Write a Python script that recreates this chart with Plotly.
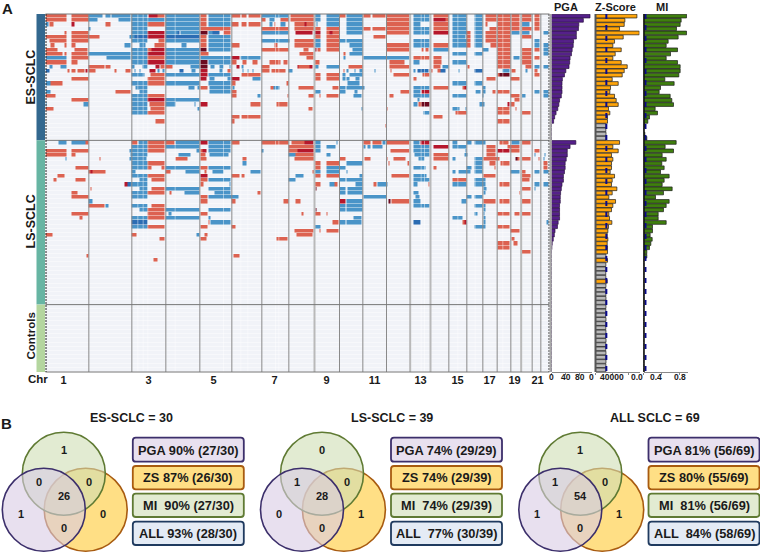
import numpy as np
import plotly.graph_objects as go

W, H = 760, 552
FONT = "Liberation Sans"

# Copy-number segments per sample. Letter = state, numbers = genome position.
# LEFT holds chr 1-7 positions, RIGHT holds chr 7-22 positions (offset by RIGHT_OFFSET).
RIGHT_OFFSET = 810
ES_LEFT = [
 "r140-202 r217-268 b268-310 b320-335 b337-395 b398-445 R447-475 r475-497 b500-600 r603-622 b627-695 r698-723 r728-743 r748-785 b787-840",
 "r140-202 r217-268 b268-295 b358-395 b398-497 b500-600 r603-622 b627-695 r787-800",
 "b140-147 r150-162 R217-225 r320-335 b398-445 r445-497 b500-600 r603-622 b627-695 r698-718 r728-743 r748-785",
 "b268-273 b398-445 b500-600 r603-695 r787-840",
 "r195-202 r217-268 b398-445 R445-497 b500-535 B535-540 b545-600 D603-625 b627-640 B640-660 r673-695 b787-840",
 "r140-202 r217-268 r268-300 b390-405 B405-445 R445-497 B500-600 r603-622 b627-695",
 "r150-202 r217-268 b398-445 r478-497 b500-600 r603-622 b627-695 b787-840",
 "r155-165 r197-202 r217-230 b375-395 b420-440 r465-497 b548-562 r603-622 b627-695 r698-720 r825-835",
 "r140-175 r225-265 b398-445 r445-458 R458-497 b500-600 D603-622 b627-695 r787-840",
 "r140-190 r197-202 r217-265 b268-395 b398-445 R445-497 b500-600 r603-627",
 "b140-202 r217-268 b322-395 b398-445 r445-497 b500-600 b603-695 R698-722 b725-785",
 "r140-202 r217-235 b398-445 R445-497 b500-600 D603-625 b627-695 r698-712 r730-742 r760-775 r810-840",
 "b150-160 b185-202 r268-315 r320-335 b398-405 b430-445 R470-480 r485-497 r500-520 b575-600 D603-625 b635-645 b660-672 b690-695 R712-720 b728-733 r787-810",
 "B140-150 r205-210 r217-230 r235-255 R258-265 r268-288 r345-352 r378-395 b405-410 b420-423 R452-470 b475-480 b490-497 B542-553 b578-590 R603-625 b660-670 r685-695 b730-733 b745-748 b760-763 r787-810 r820-838",
 "b398-435 r455-497 b500-600 R603-625 b627-695 r728-785",
 "r217-268 r445-497 R603-622 b630-645 b685-695 R698-722 b760-785",
 "b140-155 r155-190 b398-445 r445-497 b500-600 b627-695 r698-708",
 "b408-445 b568-585 b595-600 r603-625 b630-695 b700-705 b815-840",
 "b140-155 r348-395 b422-445 b630-695 r698-712",
 "r140-168 b398-445 r445-497 r698-712 b775-785",
 "r217-268 b398-445 R445-497 b500-600",
 "b137-142 b252-268 b398-445 r450-497 b500-530 b585-590 R603-625 r755-785",
 "r140-163 b398-445 r455-497 b595-600",
 "b398-445 r445-497",
 "r698-722 r728-785",
 "r468-497 r698-705",
 "", "", "", "",
]
ES_RIGHT = [
 "b0-58 r65-135 b137-155 b172-210 r212-228 b232-280 r282-305 r310-350 r352-420 b432-482 r493-538 b550-592 b617-640 r650-682 r685-723 r727-752 r758-787 r797-812",
 "b0-15 r33-58 r65-135 b137-155 b172-210 b232-280 r352-420 b432-482 R493-530 r530-538 b550-592 b617-640 r650-682 r685-723 r727-752 r758-787 r797-812",
 "b0-10 r15-20 b35-50 r75-105 R105-112 r112-135 b143-146 b172-210 b232-280 r352-420 b432-455 r493-538 b550-592 b617-640 r650-655 r685-723 r727-752 b758-780 r797-812",
 "r0-58 r75-135 r137-155 r172-210 b232-280 r282-305 r310-350 r352-420 b432-482 r493-538 b550-592 b617-640 r660-682 r685-723 r727-752 r758-787 r797-812",
 "b0-58 R78-130 R137-155 r172-180 R180-190 r190-210 b232-280 r352-420 b432-482 R493-538 b550-592 r592-605 b617-640 r650-682 r685-723 b727-752 b758-780 b822-838",
 "r312-350 r137-155 r172-210 b550-590 r592-605 b617-640 r650-682 r685-723 r758-787",
 "b0-60 r75-135 b137-155 r172-210 b210-228 b232-280 b432-482 b550-592 r592-605 b617-640 r650-682 r685-723 b797-812",
 "r75-135 b137-155 r172-210 b240-280 r352-420 b432-482 r493-538 b550-592 r592-605 b617-640 r665-682 r685-723 b797-812 b822-838",
 "r0-58 r102-118 R137-143 r145-155 r172-210 b250-280 r352-420 r458-462 r470-478 b493-538 b640-658 r685-723 r758-787 r797-812 b822-838",
 "r90-133 r222-228 b240-280 b550-592 b617-640 r685-723 r758-787 b822-838",
 "r112-133 b222-228 b282-420 r432-482 r493-518 r685-723 b732-752 r758-787 r797-812",
 "r0-35 r42-55 r137-152 r362-405 b432-450 r493-518 b550-592 r685-723 r758-787",
 "R85-88 r88-120 R120-130 b135-148 b172-210 r238-280 r362-420 r493-515 b520-538 r596-600 r685-723 r770-787 b797-812 b822-838",
 "r8-50 b58-70 r222-226 b232-238 b255-260 b270-280 b316-319 r365-368 b432-440 B445-478 r480-490 r505-515 B515-530 b568-571 B617-640 b700-722 r727-740 b770-775 r797-805",
 "r137-155 r172-210 b220-228 b240-280 r372-420 r460-482 r685-690 D690-722 r797-812",
 "r137-155 r172-210 b220-228 b232-242 b258-272 r432-442 r652-680 r725-752",
 "r52-58 b235-272 b550-592 b617-640",
 "r5-12 r88-135 r190-208 b210-228 b232-285 b432-482 r493-538 r580-585 R585-592 b640-650",
 "b137-155 b210-228 b255-265 r395-420 b432-455 R458-482 b618-635 b640-650 r670-680 r685-722 b795-810 b822-838",
 "r55-58 r118-135 r150-155 r172-208 b252-278 r360-372 b432-482 b550-592 b640-643 r725-752 b758-768 b822-838",
 "r735-752 b445-450",
 "r22-55 b432-445 r448-458 D458-482 b632-645 R715-722 r725-735",
 "r118-130 b278-281 r352-355 b550-572 b590-593 r685-722 r740-743",
 "b462-482 r558-592 r685-722 r758-785",
 "r493-520",
 "r685-722",
 "r348-351",
 "", "", "",
]
LS_LEFT = [
 "b178-202 b217-258 r258-268 r398-415 b418-445 r445-497 r500-525 b530-600 R603-625 b627-695 r698-722 r787-840",
 "b398-445 r445-497 b500-600 b627-695",
 "r140-202 r217-268 b390-445 r445-497 b592-600 r603-610 R610-622 b627-695 b787-792",
 "r140-202 r217-230 b395-445 b538-575 r603-620 b630-688",
 "b198-202 r300-303 b392-442 r530-565 r603-622 r730-742",
 "b398-445 r445-497 b730-742",
 "r228-268 b398-445 r445-458 r488-497 b500-600 r603-625 b627-695",
 "r268-275 R275-280 r280-320 b398-410 r500-515 b560-600 r615-622 b640-672 b755-785",
 "r175-195 b398-445 r445-497 R603-625 r698-722 r728-737",
 "r162-173 r228-258 b420-445 r458-497 r603-625 b627-695",
 "R375-385 B385-395 b395-445 r603-614 b692-695",
 "r275-278 b420-445 r458-497 b500-600 b627-695",
 "r217-235 b398-445 r445-497 r512-518 b555-600 b645-695 r775-785",
 "r217-268 b398-445 r603-625 b627-717",
 "b268-280 r603-625 r698-708",
 "r268-315 b320-328 b398-445 r458-497",
 "b420-445 r445-497 b500-600 b627-695",
 "r217-268 r445-497 b508-518 r603-625",
 "r240-250 b398-445 r445-497 b500-600 b627-635",
 "B398-445 r628-632 b635-695",
 "b398-445 r445-497 r603-625 r698-708",
 "",
 "r140-160 r398-413 b592-600 r615-625",
 "r480-497 r603-623 r832-838",
 "", "", "",
 "r262-268 r702-722",
 "r463-475",
 "", "", "", "", "", "", "", "", "", "",
]
LS_RIGHT = [
 "r0-58 r68-105 R105-133 b137-155 b202-205 r282-305 r310-338 b340-350 r352-420 b432-452 R455-482 b550-565 b593-607 b617-650 r690-718 b727-750 r758-785",
 "r58-135 b137-155 b172-198 b282-290 b295-305 b310-340 b432-482 R493-538 b550-592 r652-680 r715-752",
 "r58-85 R85-133 r133-135 b137-155 r365-420 b432-482 b590-593 r652-680 R685-690 R692-722 r725-750 r797-810",
 "b58-80 r80-135 b172-185 b437-482 r493-538 b585-595 r652-680 b797-800 b825-828",
 "r75-135 r210-228 r285-305 r352-355 r372-408 b447-465 r493-538 b550-560 b617-640 r642-690 D740-745 r745-752 r758-785 r808-811 b823-826",
 "r137-155 r172-210 b232-280 r358-362 r415-420 b617-640 r662-678 r695-722 r822-835",
 "r137-155 b172-210 b212-228 b432-468 r493-503 b593-607 b617-640 r675-680 r823-835",
 "r130-137 b137-155 b172-210 b232-235 b550-560 b568-605 b617-640 b725-752 r758-770 b797-810 b823-838",
 "b78-103 r137-155 r172-210 b270-280 r368-420 b432-472 r642-680 r758-785",
 "b58-78 b210-228 b232-280 b432-482 r550-592 b617-650 r758-780",
 "r137-155 b182-195 r195-205 b260-280 r312-322 b325-355 b432-445 r478-482 b550-592 b617-650 r692-722 b797-810 b823-838",
 "D138-143 b210-228 b235-280 b642-652 r758-785 b797-800",
 "b210-228 b235-280 b432-448 b642-650 r752-755",
 "b282-352 b440-452 b593-607 b617-640",
 "r42-58 r80-93 R210-228 b232-280 D358-364 r368-420 b432-455 b578-592 r642-680 r692-722 r758-785",
 "b210-228 b232-280 b432-482 b617-640 b642-648",
 "D138-143 b210-228 b232-280 b642-648",
 "r98-103 r137-155 r172-175 b617-625 b642-645 r685-722 r737-752 r758-785",
 "b252-278 b550-580 b642-648",
 "r190-208 b210-228 b232-278 B432-455 r580-585 R585-592 b642-650 b832-838",
 "b137-155 b617-650 r685-722",
 "r75-133 r152-155 r172-208 r725-752",
 "r83-130",
 "r22-55 r727-735",
 "r685-722 r733-745",
 "r685-722",
 "r758-785",
 "", "", "", "", "", "", "", "", "", "", "", "",
]
N_CONTROLS = 16

CHR_EDGES = [268, 397, 499, 601, 697, 787, 868, 945, 1020, 1090, 1161, 1232, 1293, 1348, 1402, 1450, 1493, 1534, 1565, 1598, 1624]
CHR_EDGES_SOFT = [945, 1232, 1293, 1565]
CHR_TICKS = [192, 447, 642, 825, 981, 1125, 1263, 1374, 1470, 1545, 1614]
CHR_LABELS = ["1", "3", "5", "7", "9", "11", "13", "15", "17", "19", "21"]
BAND_GAPS = [415, 431, 445, 527, 672, 724, 745, 828, 838, 1265, 1275, 1375, 1427, 1510]

PGA_ES = [110, 91, 78, 77, 71, 71, 63, 62, 59, 57, 53, 52, 50, 41, 37, 31, 30, 30, 30, 28, 23, 21, 18, 13, 9, 6, 0, 0, 0, 0]
PGA_LS = [69.5, 53, 45, 45, 42, 39, 39, 37, 34, 34, 30, 28, 26, 25, 25, 23, 23, 23, 23, 19, 17, 10, 8, 5, 2, 1] + [0] * 13
ZS_ES = [99200, 70400, 68800, 57600, 104800, 66400, 45600, 41600, 61600, 47200, 41600, 61600, 76000, 68800, 64000, 40000,
         54400, 36000, 34400, 45600, 49600, 54400, 31200, 34400, 28800, 28800, 25000, 24800, 25200, 25000]
ZS_LS = [57600, 41600, 54400, 38400, 41600, 38400, 38400, 35200, 45600, 40000, 38400, 51200, 40000, 32000, 48000, 41600,
         38400, 32000, 33600, 39200, 31200, 29600, 28000, 29600, 28000, 28800, 28800, 25000, 28800, 24800, 25000, 24600,
         24800, 28000, 25000, 24700, 24900, 25100, 24800]
ZS_CTRL = [25000, 24800, 24600, 25100, 24900, 24700, 25000, 24800, 25200, 24900, 24600, 25000, 24800, 25100, 24900, 25000]
MI_ES = [.956, .837, .815, .733, .956, .77, .548, .504, .756, .6, .504, .756, .815, .815, .785, .474, .681, .378, .348,
         .593, .63, .667, .259, .311, .133, .096, .03, .007, .03, .074]
MI_LS = [.726, .481, .667, .415, .504, .407, .459, .378, .57, .459, .415, .637, .444, .267, .57, .504, .444, .326, .326,
         .504, .2, .2, .148, .193, .163, .133, .074, .074, .01, .01, .01, .01, .01, .01, .01, .01, .01, .01, .01]
MI_CTRL = [.005] * 16
ZS_CUT = 26000
MI_CUT = 0.044

VENN_TITLES = ["ES-SCLC = 30", "LS-SCLC = 39", "ALL SCLC = 69"]
VENN_COUNTS = [[1, 0, 0, 26, 1, 0, 0], [0, 1, 0, 28, 0, 1, 0], [1, 1, 0, 54, 1, 1, 0]]
VENN_BOXES = [
    ["PGA 90% (27/30)", "ZS 87% (26/30)", "MI  90% (27/30)", "ALL 93% (28/30)"],
    ["PGA 74% (29/29)", "ZS 74% (29/39)", "MI  74% (29/39)", "ALL  77% (30/39)"],
    ["PGA 81% (56/69)", "ZS 80% (55/69)", "MI  81% (56/69)", "ALL  84% (58/69)"],
]

# ---------------- layout helpers
SHIFT = -0.5
def fx(x): return (x + SHIFT) / W
def fy(y): return 1 - y / H

STATE = {"b": -1, "B": -2, "r": 1, "R": 2, "D": 3}
X0, X1 = 138, 1650
ncol = (X1 - X0) // 3
rows_left = ES_LEFT + LS_LEFT + [""] * N_CONTROLS
rows_right = ES_RIGHT + LS_RIGHT + [""] * N_CONTROLS
nrow = len(rows_left)
z = np.zeros((nrow, ncol))

def paint(row, text, offset):
    for tok in text.split():
        s, e = tok[1:].split("-")
        a = max(0, (int(s) + offset - X0) // 3)
        b = min(ncol, (int(e) + offset - X0) // 3)
        z[row, a:b] = STATE[tok[0]]

for i in range(nrow):
    paint(i, rows_left[i], 0)
    paint(i, rows_right[i], RIGHT_OFFSET)

xs = [X0 + 3 * j + 1.5 for j in range(ncol)]
ys = [i + 0.5 for i in range(nrow)]
c = ["#2b6cb3", "#4a94c8", "#f1f3f8", "#dc6251", "#b5172c", "#6b0a20"]
cs = []
for k, col in enumerate(c):
    cs += [[k / 6, col], [(k + 1) / 6, col]]

fig = go.Figure()
fig.add_trace(go.Heatmap(x=xs, y=ys, z=z, zmin=-2, zmax=4, colorscale=cs, showscale=False, ygap=0.45,
                         hoverinfo="skip", xaxis="x", yaxis="y"))

pga = PGA_ES + PGA_LS + [0] * N_CONTROLS
zs = ZS_ES + ZS_LS + ZS_CTRL
mi = MI_ES + MI_LS + MI_CTRL
dark = "#1d1d1d"
BW = 0.88
fig.add_trace(go.Bar(y=ys, x=pga, orientation="h", xaxis="x2", yaxis="y", width=BW,
                     marker=dict(color="#55208a", line=dict(color="#2a1040", width=0.7)), hoverinfo="skip"))
fig.add_trace(go.Bar(y=ys, x=zs, orientation="h", xaxis="x3", yaxis="y", width=BW,
                     marker=dict(color=["#ffa50a" if v >= ZS_CUT else "#b9b9b9" for v in zs],
                                 line=dict(color=dark, width=0.7)), hoverinfo="skip"))
fig.add_trace(go.Bar(y=ys, x=mi, orientation="h", xaxis="x4", yaxis="y", width=BW,
                     marker=dict(color="#3f7f0e", line=dict(color=dark, width=0.7)), hoverinfo="skip"))
for ax, cut in (("x3", ZS_CUT), ("x4", MI_CUT)):
    fig.add_trace(go.Scatter(x=[cut, cut], y=[0, nrow], mode="lines", xaxis=ax, yaxis="y", hoverinfo="skip",
                             line=dict(color="#0a0a8c", width=2, dash="5px,6px")))

shapes = []
def rect(x0, y0, x1, y1, fill, line=None, lw=0, layer="above"):
    shapes.append(dict(type="rect", xref="paper", yref="paper", x0=fx(x0), x1=fx(x1), y0=fy(y1), y1=fy(y0),
                       fillcolor=fill, line=dict(color=line or fill, width=lw), layer=layer))
def seg(x0, y0, x1, y1, color, lw=1, dash="solid"):
    shapes.append(dict(type="line", xref="paper", yref="paper", x0=fx(x0), x1=fx(x1), y0=fy(y0), y1=fy(y1),
                       line=dict(color=color, width=lw, dash=dash), layer="above"))

TOP, BOT = 14.0, 372.0
ROW = (BOT - TOP) / nrow
ES_END = TOP + ROW * len(ES_LEFT)
LS_END = ES_END + ROW * len(LS_LEFT)
rect(37, TOP, 45.5, ES_END, "#33688f")
rect(37, ES_END, 45.5, LS_END, "#67b5a3")
rect(37, LS_END, 45.5, BOT, "#b4d69f")

for g in BAND_GAPS:
    shapes.append(dict(type="line", xref="x", yref="paper", x0=g, x1=g, y0=fy(BOT), y1=fy(TOP),
                       line=dict(color="rgba(255,255,255,0.45)", width=1), layer="above"))
for g in CHR_EDGES:
    soft = g in CHR_EDGES_SOFT
    shapes.append(dict(type="line", xref="x", yref="paper", x0=g, x1=g, y0=fy(BOT), y1=fy(TOP),
                       line=dict(color="#b9b9b9" if soft else "#8a8a8a", width=2 if soft else 1), layer="above"))
seg(46, TOP, 550, TOP, "#777777", 1)
seg(46, ES_END, 550, ES_END, "#777777", 1)
seg(46, LS_END, 550, LS_END, "#777777", 1)
seg(46, BOT, 550, BOT, "#777777", 1)
seg(46.5, TOP, 46.5, BOT, "#222222", 1, "2px,1px")
seg(549.5, TOP, 549.5, BOT, "#444444", 1, "2px,1px")
rect(550, TOP, 552, BOT, "#a8a8a8")
seg(596, TOP, 596, BOT, "#555555", 2)
seg(644.5, TOP, 644.5, BOT, "#111111", 1.5)

ann = []
def txt(x, y, s, size=10, bold=True, angle=0, color="#1a1a1a"):
    ann.append(dict(xref="paper", yref="paper", x=fx(x), y=fy(y), text=f"<b>{s}</b>" if bold else s, showarrow=False,
                    xanchor="center", yanchor="middle", textangle=angle, font=dict(family=FONT, size=size, color=color)))

VENN_DX = [0, 258.2, 516.5]
BOX_DX = [0, 258.2, 515.7]
TITLE_X = [132, 392.2, 655]
R = 41.5
circ = [(86.2, 509.7, "#ffdf85", "#a85b10"),
        (64.3, 473.7, "rgba(207,222,180,0.6)", "#5f7a33"),
        (44.3, 509.7, "rgba(217,203,228,0.6)", "#3c2f6b")]
num_pos = [(64.3, 450), (39.3, 482.3), (89.3, 482.3), (64.3, 495.7), (21, 514), (103.3, 514), (64.3, 527.7)]
box_y = [(437.7, 461.7), (466, 489.3), (493.7, 517), (521.7, 545)]
box_c = [("#e8e0ef", "#3c2f6b"), ("#ffdf85", "#a85b10"), ("#e2ebd2", "#5f7a33"), ("#e4ebf5", "#1f3a5f")]

def rrect(x0, y0, x1, y1, r=3):
    return (f"M{fx(x0+r)},{fy(y0)} L{fx(x1-r)},{fy(y0)} Q{fx(x1)},{fy(y0)} {fx(x1)},{fy(y0+r)} "
            f"L{fx(x1)},{fy(y1-r)} Q{fx(x1)},{fy(y1)} {fx(x1-r)},{fy(y1)} L{fx(x0+r)},{fy(y1)} "
            f"Q{fx(x0)},{fy(y1)} {fx(x0)},{fy(y1-r)} L{fx(x0)},{fy(y0+r)} Q{fx(x0)},{fy(y0)} {fx(x0+r)},{fy(y0)} Z")

for v in range(3):
    dx = VENN_DX[v]
    for cx, cy, f, l in circ:
        shapes.append(dict(type="circle", xref="paper", yref="paper", x0=fx(cx + dx - R), x1=fx(cx + dx + R),
                           y0=fy(cy + R), y1=fy(cy - R), fillcolor=f, line=dict(color=l, width=1.6), layer="above"))
    for (nx, ny), n in zip(num_pos, VENN_COUNTS[v]):
        txt(nx + dx, ny, n, 11)
    txt(TITLE_X[v], 417.7, VENN_TITLES[v], 12.5)
    for (y0, y1), (f, l), s in zip(box_y, box_c, VENN_BOXES[v]):
        x0, x1 = 133.3 + BOX_DX[v], 244.3 + BOX_DX[v]
        shapes.append(dict(type="path", xref="paper", yref="paper", path=rrect(x0, y0, x1, y1), fillcolor=f,
                           line=dict(color=l, width=1.8), layer="above"))
        txt((x0 + x1) / 2, (y0 + y1) / 2 + 0.3, s, 12.8)

txt(8, 8.5, "A", 15)
txt(7, 423, "B", 15)
txt(31, 77, "ES-SCLC", 12.5, angle=-90)
txt(31, 222, "LS-SCLC", 12.5, angle=-90)
txt(31, 336, "Controls", 11.5, angle=-90)
txt(38, 378.5, "Chr", 11.5)
txt(566, 7, "PGA", 11)
txt(616, 7, "Z-Score", 11)
txt(662.5, 7, "MI", 11)
for x, s in zip([552, 566, 580, 592, 612.7, 637.7, 656.7, 680], ["0", "40", "80", "0", "40000", "0.0", "0.4", "0.8"]):
    txt(x, 376.5, s, 8.5)

tick_font = dict(family=FONT, size=11, color="#1a1a1a")
def bar_axis(p0, p1, scale, **kw):
    return dict(domain=[fx(p0), fx(p1)], range=[0, (p1 - p0) / scale], anchor="y", showgrid=False, zeroline=False,
                showline=True, linecolor="#888888", linewidth=1, ticks="outside", ticklen=2, tickcolor="#888888",
                tickfont=dict(family=FONT, size=8.5, color="#1a1a1a"), **kw)

fig.update_layout(
    width=W, height=H, margin=dict(l=0, r=0, t=0, b=0), paper_bgcolor="white", plot_bgcolor="white",
    showlegend=False, barmode="overlay", shapes=shapes, annotations=ann,
    yaxis=dict(domain=[fy(BOT), fy(TOP)], range=[nrow, 0], visible=False),
    xaxis=dict(domain=[fx(46), fx(550)], range=[X0, X1], anchor="y", showgrid=False, zeroline=False, ticks="",
               tickvals=CHR_TICKS, ticktext=[f"<b>{s}</b>" for s in CHR_LABELS], tickfont=tick_font),
    xaxis2=bar_axis(552, 592, 0.35, tickvals=[0, 40, 80], ticktext=["", "", ""]),
    xaxis3=bar_axis(596, 640, 16.7 / 40000, tickvals=[0, 40000, 80000], ticktext=["", "", ""]),
    xaxis4=bar_axis(644, 688, 45, tickvals=[0, 0.4, 0.8], ticktext=["", "", ""]),
)

fig.write_html("out.html", config={"displayModeBar": False}, post_script="document.body.style.margin='0';")
